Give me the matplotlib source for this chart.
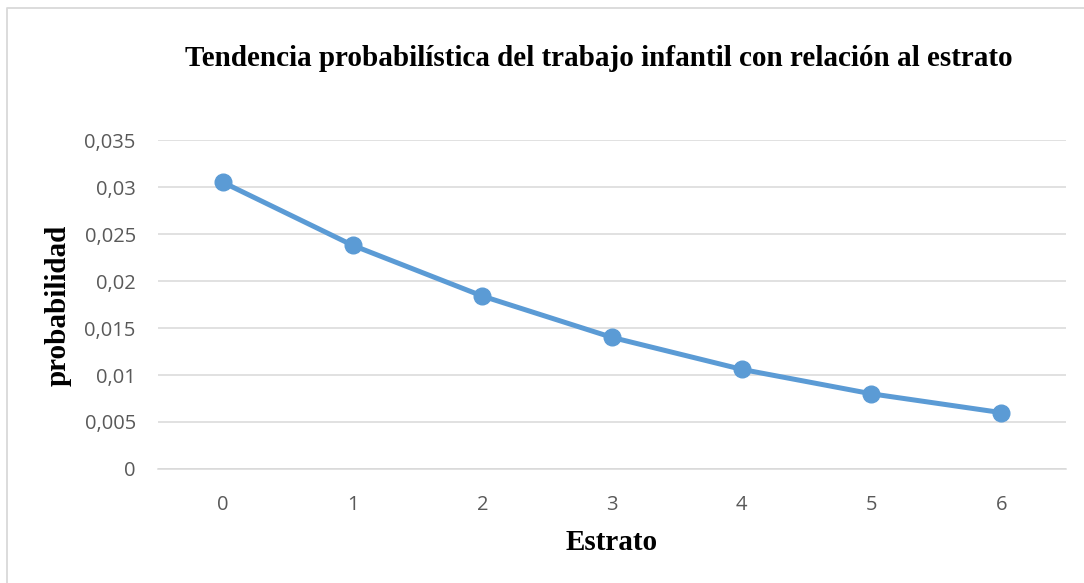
import matplotlib
matplotlib.use('Agg')
from matplotlib import pyplot as plt
from matplotlib.lines import Line2D

estrato = [0, 1, 2, 3, 4, 5, 6]
probabilidad = [0.0305, 0.0238, 0.0184, 0.0140, 0.0106, 0.0080, 0.0060]
yticks = [0, 0.005, 0.01, 0.015, 0.02, 0.025, 0.03, 0.035]
ytick_labels = ['0', '0,005', '0,01', '0,015', '0,02', '0,025', '0,03', '0,035']

title = 'Tendencia probabilística del trabajo infantil con relación al estrato'

W, H = 1084, 583


def main():
    fig = plt.figure(figsize=(W / 100, H / 100), dpi=100)
    ax = fig.add_axes([158 / W, 1 - 469 / H, (1066 - 158) / W, (469 - 140) / H])

    ax.plot(estrato, probabilidad, color='#5B9BD5', lw=3.6, marker='o', ms=12,
            solid_capstyle='round', zorder=3, clip_on=False)

    ax.set_xlim(-0.5, 6.5)
    ax.set_ylim(0, 0.035)
    ax.set_yticks(yticks)
    ax.set_yticklabels(ytick_labels)
    ax.set_xticks(estrato)
    ax.grid(axis='y', color='#D9D9D9', lw=1.1)
    ax.set_axisbelow(True)
    for s in ['top', 'right', 'left']:
        ax.spines[s].set_visible(False)
    ax.spines['bottom'].set_color('#D9D9D9')
    ax.spines['bottom'].set_linewidth(1.1)
    ax.tick_params(length=0, labelsize=14.5, labelcolor='#595959')
    for lab in ax.get_xticklabels() + ax.get_yticklabels():
        lab.set_family('Open Sans')
    ax.tick_params(axis='x', pad=19)
    ax.tick_params(axis='y', pad=16)

    fig.text(599 / W, 1 - 58 / H, title, ha='center', va='center',
             family='Liberation Serif', weight='bold', fontsize=21)
    fig.text(58 / W, 1 - 305 / H, 'probabilidad', ha='center', va='center',
             rotation=90, family='Liberation Serif', weight='bold', fontsize=21)
    fig.text(612 / W, 1 - 543 / H, 'Estrato', ha='center', va='center',
             family='Liberation Serif', weight='bold', fontsize=21)

    # frame of the chart area, only top and left edges fall inside the crop
    fig.lines.append(Line2D([6.5 / W, 6.5 / W, 1], [0, 1 - 7.5 / H, 1 - 7.5 / H],
                            transform=fig.transFigure, color='#D9D9D9', lw=1.3))

    fig.savefig('out.png', dpi=100)


if __name__ == '__main__':
    main()
